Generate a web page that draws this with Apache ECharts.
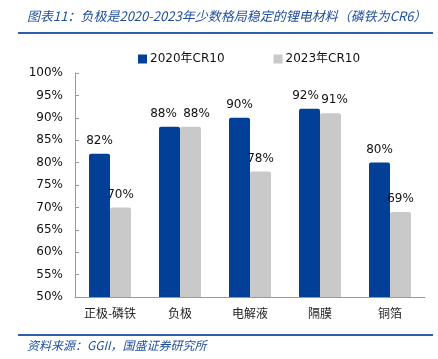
<!DOCTYPE html>
<html><head><meta charset="utf-8">
<script src="https://cdn.jsdelivr.net/npm/echarts@6/dist/echarts.min.js"></script>
<style>html,body{margin:0;padding:0;background:#fff}#c{width:438px;height:359px}</style>
</head><body><div id="c"></div>
<script>
const categories = ['正极-磷铁', '负极', '电解液', '隔膜', '铜箔'];
const series2020 = [82, 88, 90, 92, 80];
const series2023 = [70, 88, 78, 91, 69];
const seriesNames = ['2020年CR10', '2023年CR10'];
const titleText = '图表11：负极是2020-2023年少数格局稳定的锂电材料（磷铁为CR6）';
const sourceText = '资料来源：GGII，国盛证券研究所';

const chart = echarts.init(document.getElementById('c'));
const numFont = '"DejaVu Sans", "Noto Sans CJK SC", sans-serif';
const labelStyle = {show: true, position: 'top', formatter: p => p.value + '%', color: '#111', fontSize: 12, fontFamily: numFont, distance: 7};
// nudge labels apart when neighbouring bars have nearly equal heights (avoid overlap)
function withLabelShift(values, other, dir) {
  return values.map((v, i) => {
    const d = Math.abs(v - other[i]);
    if (d <= 1) return {value: v, label: {offset: [dir * (d === 0 ? 6 : 4), 0]}};
    return v;
  });
}
chart.setOption({
  animation: false,
  grid: {left: 75, right: 13, top: 73, bottom: 62},
  legend: {
    top: 48, left: 133, itemGap: 49, itemWidth: 9, itemHeight: 9, icon: 'rect',
    textStyle: {fontSize: 12, color: '#111', fontFamily: numFont, padding: [0, 0, 0, -2]},
    data: seriesNames
  },
  xAxis: {
    type: 'category', data: categories,
    axisLine: {lineStyle: {color: '#999'}},
    axisTick: {inside: true, length: 4, lineStyle: {color: '#999'}},
    axisLabel: {color: '#222', fontSize: 12, margin: 10, fontFamily: '"Noto Sans CJK SC", sans-serif'}
  },
  yAxis: {
    type: 'value', min: 50, max: 100, interval: 5,
    splitLine: {show: false},
    axisLine: {show: true, lineStyle: {color: '#999'}},
    axisTick: {show: true, inside: true, length: 4, lineStyle: {color: '#999'}},
    axisLabel: {formatter: v => v + '%', color: '#111', fontSize: 12, margin: 12, fontFamily: numFont}
  },
  series: [
    {name: seriesNames[0], type: 'bar', data: withLabelShift(series2020, series2023, -1), barWidth: 21, barGap: '0%',
     itemStyle: {color: '#023F97', borderRadius: [2, 2, 0, 0]}, label: labelStyle},
    {name: seriesNames[1], type: 'bar', data: withLabelShift(series2023, series2020, 1), barWidth: 21,
     itemStyle: {color: '#C9C9C9', borderRadius: [2, 2, 0, 0]}, label: labelStyle}
  ],
  graphic: [
    {type: 'text', left: 27, top: 10, style: {text: titleText, fill: '#1F4E9C', font: 'italic 13px "Noto Sans CJK SC", sans-serif'}},
    {type: 'rect', shape: {x: 18, y: 32, width: 415, height: 2}, style: {fill: '#2E5FAE'}},
    {type: 'rect', shape: {x: 18, y: 334, width: 415, height: 2}, style: {fill: '#2E5FAE'}},
    {type: 'text', left: 27, top: 339, style: {text: sourceText, fill: '#1F4E9C', font: 'italic 12px "Noto Sans CJK SC", sans-serif'}}
  ]
});
</script></body></html>
